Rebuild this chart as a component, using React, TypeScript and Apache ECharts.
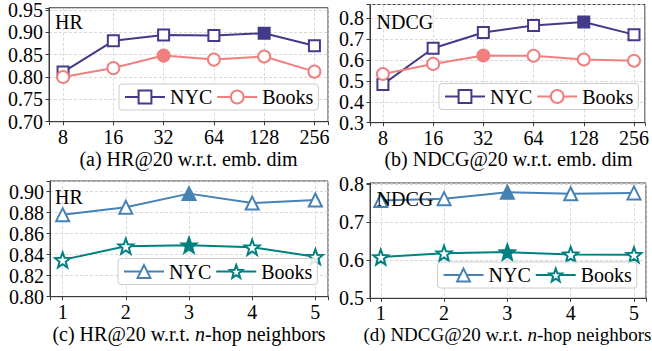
import React, { useEffect, useRef } from 'react';
import * as echarts from 'echarts';

// ---- data ----
const embDims = ['8', '16', '32', '64', '128', '256'];
const hopCounts = ['1', '2', '3', '4', '5'];

const hrEmbNYC = [0.811, 0.881, 0.894, 0.893, 0.898, 0.870];
const hrEmbBooks = [0.800, 0.820, 0.848, 0.839, 0.846, 0.812];
const ndcgEmbNYC = [0.483, 0.656, 0.731, 0.765, 0.781, 0.721];
const ndcgEmbBooks = [0.533, 0.581, 0.621, 0.620, 0.602, 0.596];

const hrHopNYC = [0.878, 0.885, 0.898, 0.889, 0.892];
const hrHopBooks = [0.835, 0.848, 0.849, 0.847, 0.838];
const ndcgHopNYC = [0.756, 0.761, 0.778, 0.774, 0.776];
const ndcgHopBooks = [0.608, 0.618, 0.621, 0.615, 0.614];

// ---- style ----
const FONT = 'Liberation Serif';
const PURPLE = '#433A8A';
const CORAL = '#F08080';
const STEEL = '#4682B4';
const TEAL = '#008080';
const STAR =
  'path://M0,-10L2.47,-3.4L9.51,-3.09L3.99,1.3L5.88,8.09L0,4.2L-5.88,8.09L-3.99,1.3L-9.51,-3.09L-2.47,-3.4Z';

type SeriesCfg = { name: string; values: number[]; color: string; symbol: string; size: number };
type PanelCfg = {
  key: string;
  grid: { left: number; top: number; width: number; height: number };
  xMin: number;
  xMax: number;
  xLabels: string[];
  xPos: number[];
  yMin: number;
  yMax: number;
  yInt: number;
  dec: number;
  series: SeriesCfg[];
  legend: { left: number; top: number };
  tag: { text: string; x: number; y: number };
  caption: { text: string; x: number; y: number; size: number };
};

const argmax = (a: number[]) => a.reduce((bi, v, i) => (v > a[bi] ? i : bi), 0);

const panels: PanelCfg[] = [
  {
    key: 'a',
    grid: { left: 49, top: 6, width: 279, height: 115.7 },
    xMin: -0.28,
    xMax: 5.27,
    xLabels: embDims,
    xPos: embDims.map((_, i) => i),
    yMin: 0.7,
    yMax: 0.955,
    yInt: 0.05,
    dec: 2,
    series: [
      { name: 'NYC', values: hrEmbNYC, color: PURPLE, symbol: 'rect', size: 11 },
      { name: 'Books', values: hrEmbBooks, color: CORAL, symbol: 'circle', size: 12 },
    ],
    legend: { left: 119, top: 84 },
    tag: { text: 'HR', x: 55, y: 21.5 },
    caption: { text: '(a) HR@20 w.r.t. emb. dim', x: 188.5, y: 159, size: 20 },
  },
  {
    key: 'b',
    grid: { left: 370, top: 4.5, width: 277, height: 118.2 },
    xMin: -0.257,
    xMax: 5.217,
    xLabels: embDims,
    xPos: embDims.map((_, i) => i),
    yMin: 0.3,
    yMax: 0.865,
    yInt: 0.1,
    dec: 1,
    series: [
      { name: 'NYC', values: ndcgEmbNYC, color: PURPLE, symbol: 'rect', size: 11 },
      { name: 'Books', values: ndcgEmbBooks, color: CORAL, symbol: 'circle', size: 12 },
    ],
    legend: { left: 439, top: 83.5 },
    tag: { text: 'NDCG', x: 376.5, y: 21.5 },
    caption: { text: '(b) NDCG@20 w.r.t. emb. dim', x: 508.5, y: 159, size: 20 },
  },
  {
    key: 'c',
    grid: { left: 50, top: 181, width: 278, height: 115.7 },
    xMin: 0.8,
    xMax: 5.2,
    xLabels: hopCounts,
    xPos: hopCounts.map(Number),
    yMin: 0.8,
    yMax: 0.91,
    yInt: 0.02,
    dec: 2,
    series: [
      { name: 'NYC', values: hrHopNYC, color: STEEL, symbol: 'triangle', size: 13 },
      { name: 'Books', values: hrHopBooks, color: TEAL, symbol: STAR, size: 15 },
    ],
    legend: { left: 118, top: 258.5 },
    tag: { text: 'HR', x: 55, y: 196.5 },
    caption: { text: '(c) HR@20 w.r.t. {i|n}-hop neighbors', x: 189, y: 334, size: 20 },
  },
  {
    key: 'd',
    grid: { left: 370, top: 183, width: 276, height: 115.3 },
    xMin: 0.83,
    xMax: 5.19,
    xLabels: hopCounts,
    xPos: hopCounts.map(Number),
    yMin: 0.5,
    yMax: 0.802,
    yInt: 0.1,
    dec: 1,
    series: [
      { name: 'NYC', values: ndcgHopNYC, color: STEEL, symbol: 'triangle', size: 13 },
      { name: 'Books', values: ndcgHopBooks, color: TEAL, symbol: STAR, size: 15 },
    ],
    legend: { left: 437.5, top: 262 },
    tag: { text: 'NDCG', x: 376.5, y: 198.5 },
    caption: { text: '(d) NDCG@20 w.r.t. {i|n}-hop neighbors', x: 507.5, y: 334, size: 19 },
  },
];

function buildOption() {
  const grid: any[] = [];
  const xAxis: any[] = [];
  const yAxis: any[] = [];
  const series: any[] = [];
  const legend: any[] = [];
  const graphic: any[] = [];
  const axisColor = '#3a3a3a';
  const gridLine = { show: true, lineStyle: { color: '#cfcfcf', type: [3, 2], width: 0.8 } };

  panels.forEach((p, gi) => {
    grid.push({
      ...p.grid,
      show: true,
      borderColor: axisColor,
      borderWidth: 1,
      backgroundColor: 'rgba(0,0,0,0)',
    });
    xAxis.push({
      gridIndex: gi,
      type: 'value',
      min: p.xMin,
      max: p.xMax,
      minInterval: 1,
      maxInterval: 1,
      axisLine: { show: true, onZero: false, lineStyle: { color: axisColor, width: 1 } },
      axisTick: { show: true, length: 3.5, lineStyle: { color: axisColor } },
      axisLabel: {
        color: '#000',
        fontFamily: FONT,
        fontSize: 20,
        margin: 5,
        formatter: (v: number) => {
          const k = p.xPos.findIndex((x) => Math.abs(x - v) < 1e-6);
          return k >= 0 ? p.xLabels[k] : '';
        },
      },
      splitLine: gridLine,
    });
    yAxis.push({
      gridIndex: gi,
      type: 'value',
      min: p.yMin,
      max: p.yMax,
      interval: p.yInt,
      axisLine: { show: true, onZero: false, lineStyle: { color: axisColor, width: 1 } },
      axisTick: { show: true, length: 3.5, lineStyle: { color: axisColor } },
      axisLabel: {
        color: '#000',
        fontFamily: FONT,
        fontSize: 20,
        margin: 6,
        formatter: (v: number) => {
          const r = (v - p.yMin) / p.yInt;
          return Math.abs(r - Math.round(r)) < 1e-6 ? v.toFixed(p.dec) : '';
        },
      },
      splitLine: gridLine,
    });
    const legendData: any[] = [];
    p.series.forEach((s, si) => {
      const best = argmax(s.values);
      const id = s.name + '#' + p.key;
      series.push({
        type: 'line',
        name: id,
        xAxisIndex: gi,
        yAxisIndex: gi,
        symbol: s.symbol,
        symbolSize: s.size,
        showSymbol: true,
        showAllSymbol: true,
        z: 2 + si,
        lineStyle: { color: s.color, width: 2 },
        itemStyle: { color: '#fff', borderColor: s.color, borderWidth: 2 },
        emphasis: { disabled: true },
        data: s.values.map((v, k) => ({
          value: [p.xPos[k], v],
          itemStyle: k === best ? { color: s.color, borderColor: s.color, borderWidth: 2 } : undefined,
        })),
      });
      legendData.push({
        name: id,
        itemStyle: { color: '#fff', borderColor: s.color, borderWidth: 2 },
        lineStyle: { color: s.color, width: 2 },
      });
    });
    legend.push({
      left: p.legend.left,
      top: p.legend.top,
      orient: 'horizontal',
      data: legendData,
      selectedMode: false,
      itemWidth: 40,
      itemHeight: 16,
      itemGap: 4,
      padding: [3, 5, 3, 5],
      backgroundColor: 'rgba(255,255,255,0.85)',
      borderColor: '#cccccc',
      borderWidth: 1,
      borderRadius: 3,
      textStyle: { fontFamily: FONT, fontSize: 20, color: '#000' },
      formatter: (name: string) => name.split('#')[0],
      z: 10,
    });
    graphic.push({
      type: 'text',
      x: p.tag.x,
      y: p.tag.y,
      z: 100,
      style: {
        text: p.tag.text,
        fontFamily: FONT,
        fontSize: 20,
        fill: '#000',
        align: 'left',
        verticalAlign: 'middle',
      },
    });
    graphic.push({
      type: 'text',
      x: p.caption.x,
      y: p.caption.y,
      z: 100,
      style: {
        text: p.caption.text,
        fontFamily: FONT,
        fontSize: p.caption.size,
        fill: '#000',
        align: 'center',
        verticalAlign: 'middle',
        rich: {
          i: { fontFamily: FONT, fontSize: p.caption.size, fontStyle: 'italic', fill: '#000' },
        },
      },
    });
  });

  return {
    animation: false,
    backgroundColor: '#ffffff',
    textStyle: { fontFamily: FONT },
    grid,
    xAxis,
    yAxis,
    series,
    legend,
    graphic,
  };
}

export default function App() {
  const ref = useRef<HTMLDivElement>(null);
  useEffect(() => {
    if (!ref.current) return;
    const chart = echarts.init(ref.current, undefined, { renderer: 'svg' });
    chart.setOption(buildOption() as any);
    return () => chart.dispose();
  }, []);
  return (
    <div
      ref={ref}
      style={{ position: 'absolute', left: 0, top: 0, width: 652, height: 351, background: '#fff' }}
    />
  );
}
